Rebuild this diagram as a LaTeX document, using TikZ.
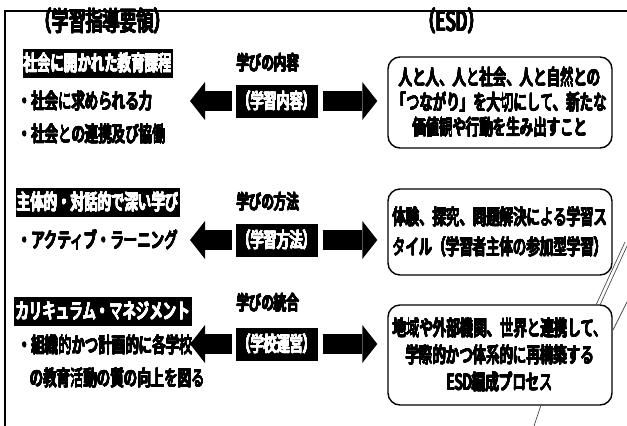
\documentclass[tikz,border=0pt]{standalone}
\usepackage{fontspec}
\usepackage[copies]{contour}
\setmainfont{Noto Sans CJK JP}[FakeStretch=0.64]
\contourlength{0.45pt}
\contournumber{16}
\newcommand{\boldtxt}[1]{\contour{black}{#1}}
\newcommand{\boldwhite}[1]{\contour{white}{#1}}
\usetikzlibrary{arrows.meta}
\tikzset{
  txt/.style={font=\fontsize{21}{24}\selectfont, inner sep=0pt, anchor=west},
  lbl/.style={font=\fontsize{19.5}{22}\selectfont, inner sep=0pt},
  hdr/.style={font=\fontsize{26.5}{28}\selectfont, inner sep=0pt},
  blk/.style={fill=black, text=white, font=\fontsize{21}{24}\selectfont, inner xsep=1.5pt, inner ysep=0pt, minimum height=29pt},
  midbox/.style={fill=black, text=white, font=\fontsize{20.5}{24}\selectfont, inner xsep=2pt, inner ysep=0pt, minimum height=33pt, minimum width=78pt},
  rbox/.style={draw, line width=1.4pt, rounded corners=12pt, minimum width=224pt, align=center, inner sep=0pt},
  blockarrow/.style={line width=20pt, -{Triangle[length=15pt,width=38pt,line width=0pt]}},
  frame/.style={line width=2.4pt},
  scanline/.style={line width=0.7pt, draw=black!70}
}
\begin{document}
\begin{tikzpicture}[x=1pt,y=-1pt]
\useasboundingbox (0,0) rectangle (627,426);
\fill[white] (0,0) rectangle (627,426);
% frame
\draw[frame] (5,426) -- (5,11) -- (627,11);
% headers
\node[hdr] (hL) at (103,21) {\boldtxt{（学習指導要領）}};
\node[hdr] (hR) at (452,21) {\boldtxt{（ESD）}};
% row 1
\node[blk] (b1) at (98,63) {\boldwhite{社会に開かれた教育課程}};
\node[txt] (l1a) at (18,101) {\boldtxt{・社会に求められる力}};
\node[txt] (l1b) at (18,134) {\boldtxt{・社会との連携及び協働}};
\node[lbl] (n1) at (268,63) {\boldtxt{学びの内容}};
\node[midbox] (m1) at (277,101) {\boldwhite{（学習内容）}};
\node[rbox, minimum height=91pt, font=\fontsize{21}{25}\selectfont] (r1) at (500,102.5)
  {\boldtxt{人と人、人と社会、人と自然との}\\\boldtxt{「つながり」を大切にして、新たな}\\\boldtxt{価値観や行動を生み出すこと}};
\coordinate (t1) at (190,101);
\draw[blockarrow] ([xshift=-3pt]m1.west) -- (t1);
\draw[blockarrow] ([xshift=4pt]m1.east) -- ([xshift=-10pt]r1.west |- m1.east);
% row 2
\node[blk] (b2) at (98,202) {\boldwhite{主体的・対話的で深い学び}};
\node[txt] (l2a) at (18,240) {\boldtxt{・アクティブ・ラーニング}};
\node[lbl] (n2) at (268,202) {\boldtxt{学びの方法}};
\node[midbox] (m2) at (277,240) {\boldwhite{（学習方法）}};
\node[rbox, minimum height=86pt, font=\fontsize{21}{30}\selectfont] (r2) at (500,232)
  {\boldtxt{体験、探究、問題解決による学習ス}\\\boldtxt{タイル（学習者主体の参加型学習）}};
\coordinate (t2) at (190,240);
\draw[blockarrow] ([xshift=-3pt]m2.west) -- (t2);
\draw[blockarrow] ([xshift=4pt]m2.east) -- ([xshift=-10pt]r2.west |- m2.east);
% row 3
\node[blk] (b3) at (103,311) {\boldwhite{カリキュラム・マネジメント}};
\node[txt] (l3a) at (18,345) {\boldtxt{・組織的かつ計画的に各学校}};
\node[txt] (l3b) at (30,378) {\boldtxt{の教育活動の質の向上を図る}};
\node[lbl] (n3) at (268,303) {\boldtxt{学びの統合}};
\node[midbox] (m3) at (277,344) {\boldwhite{（学校運営）}};
\node[rbox, minimum height=100pt, font=\fontsize{21}{27}\selectfont] (r3) at (500,355)
  {\boldtxt{地域や外部機関、世界と連携して、}\\\boldtxt{学際的かつ体系的に再構築する}\\\boldtxt{ESD編成プロセス}};
\coordinate (t3) at (190,344);
\draw[blockarrow] ([xshift=-3pt]m3.west) -- (t3);
\draw[blockarrow] ([xshift=4pt]m3.east) -- ([xshift=-10pt]r3.west |- m3.east);
% scan marks
\draw[scanline] (596,305) -- (625,242);
\draw[scanline] (600,305) -- (627,246);
\draw[scanline] (613,330) -- (627,302);
\draw[scanline] (541,405) -- (534,426);
\end{tikzpicture}
\end{document}
